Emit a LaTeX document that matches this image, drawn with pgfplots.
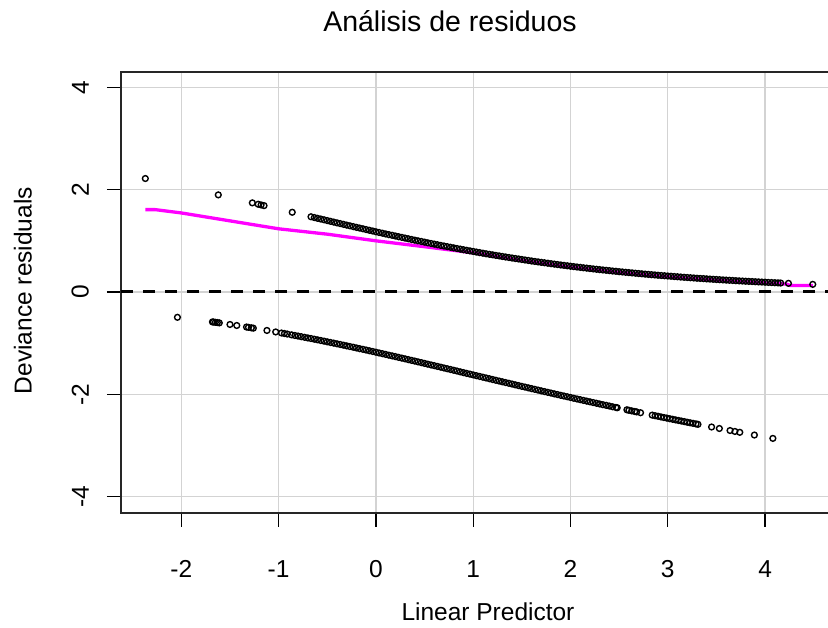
\documentclass[border=0pt]{standalone}
\usepackage{pgfplots}
\pgfplotsset{compat=1.18}
\usepackage{fontspec}
\setmainfont{Liberation Sans}
\definecolor{lg}{RGB}{211,211,211}
\definecolor{mag}{RGB}{255,0,255}
\begin{document}
\begin{tikzpicture}
\path[use as bounding box] (-121pt,-115pt) rectangle (707pt,513pt);
\begin{axis}[
  at={(0pt,0pt)}, anchor=south west,
  scale only axis, width=719pt, height=441pt,
  xmin=-2.62, xmax=4.77, ymin=-4.32, ymax=4.30,
  xtick={-2,-1,0,1,2,3,4}, ytick={-4,-2,0,2,4},
  xticklabels={-2,-1,0,1,2,3,4},
  yticklabels={-4,-2,0,2,4},
  tick pos=left, tick align=outside,
  major tick length=14pt,
  tick style={line width=1.2pt, black},
  axis line style={line width=1.3pt, black!85},
  grid=major,
  major grid style={line width=1.3pt, lg},
  ticklabel style={font=\fontsize{24.5}{29}\selectfont, inner sep=0pt},
  xticklabel style={anchor=north, yshift=-33pt},
  yticklabel style={rotate=90, anchor=south, yshift=18pt},
  xlabel={Linear Predictor},
  ylabel={Deviance residuals},
  title={Análisis de residuos},
  label style={font=\fontsize{24.5}{29}\selectfont, inner sep=0pt},
  xlabel style={at={(axis description cs:0.5104,-0.2245)}, anchor=center},
  ylabel style={at={(axis description cs:-0.1363,0.5045)}, anchor=center},
  title style={at={(axis description cs:0.4576,1.102)}, anchor=center, inner sep=0pt, font=\fontsize{28.5}{34}\selectfont},
]
% upper residuals (y = 1)
\addplot[only marks, mark=o, mark size=2.9pt, mark options={line width=1.4pt, black}] coordinates {
(-2.37,2.218) (-1.62,1.898) (-1.27,1.742) (-1.21,1.715) (-1.18,1.702) (-1.15,1.688) (-0.86,1.558)
(-0.667,1.470) (-0.633,1.455) (-0.6,1.440) (-0.567,1.426) (-0.533,1.411) (-0.5,1.396) (-0.467,1.381) (-0.433,1.366) (-0.4,1.351) (-0.367,1.337) (-0.333,1.322) (-0.3,1.307) (-0.267,1.293) (-0.233,1.278) (-0.2,1.263) (-0.167,1.249) (-0.133,1.235) (-0.1,1.220) (-0.067,1.206) (-0.033,1.192) (0,1.177) (0.033,1.163) (0.067,1.149) (0.1,1.135) (0.133,1.121) (0.167,1.108) (0.2,1.094) (0.233,1.080) (0.267,1.067) (0.3,1.053) (0.333,1.040) (0.367,1.026) (0.4,1.013) (0.433,1.000) (0.467,0.987) (0.5,0.974) (0.533,0.961) (0.567,0.948) (0.6,0.935) (0.633,0.923) (0.667,0.910) (0.7,0.898) (0.733,0.886) (0.767,0.874) (0.8,0.862) (0.833,0.850) (0.867,0.838) (0.9,0.826) (0.933,0.815) (0.967,0.803) (1.0,0.792) (1.033,0.780) (1.067,0.769) (1.1,0.758) (1.133,0.747) (1.167,0.736) (1.2,0.726) (1.233,0.715) (1.267,0.705) (1.3,0.694) (1.333,0.684) (1.367,0.674) (1.4,0.664) (1.433,0.654) (1.467,0.645) (1.5,0.635) (1.533,0.625) (1.567,0.616) (1.6,0.606) (1.633,0.597) (1.667,0.588) (1.7,0.579) (1.733,0.571) (1.767,0.562) (1.8,0.553) (1.833,0.545) (1.867,0.536) (1.9,0.528) (1.933,0.520) (1.967,0.512) (2.0,0.504) (2.033,0.496) (2.067,0.488) (2.1,0.481) (2.133,0.473) (2.167,0.466) (2.2,0.458) (2.233,0.451) (2.267,0.444) (2.3,0.437) (2.333,0.430) (2.367,0.424) (2.4,0.417) (2.433,0.410) (2.467,0.404) (2.5,0.397) (2.533,0.391) (2.567,0.385) (2.6,0.379) (2.633,0.373) (2.667,0.367) (2.7,0.361) (2.733,0.355) (2.767,0.349) (2.8,0.344) (2.833,0.338) (2.867,0.333) (2.9,0.327) (2.933,0.322) (2.967,0.317) (3.0,0.312) (3.033,0.307) (3.067,0.302) (3.1,0.297) (3.133,0.292) (3.167,0.287) (3.2,0.283) (3.233,0.278) (3.267,0.274) (3.3,0.269) (3.333,0.265) (3.367,0.261) (3.4,0.256) (3.433,0.252) (3.467,0.248) (3.5,0.244) (3.533,0.240) (3.567,0.236) (3.6,0.232) (3.633,0.229) (3.667,0.225) (3.7,0.221) (3.733,0.217) (3.767,0.214) (3.8,0.210) (3.833,0.207) (3.867,0.204) (3.9,0.200) (3.933,0.197) (3.967,0.194) (4.0,0.191) (4.033,0.187) (4.067,0.184) (4.1,0.181) (4.133,0.178) (4.16,0.175) (4.24,0.169) (4.49,0.149)
};
% lower residuals (y = 0)
\addplot[only marks, mark=o, mark size=2.9pt, mark options={line width=1.4pt, black}] coordinates {
(-2.04,-0.495) (-1.68,-0.585) (-1.67,-0.587) (-1.65,-0.593) (-1.63,-0.598) (-1.61,-0.604) (-1.50,-0.635) (-1.43,-0.655) (-1.33,-0.685) (-1.31,-0.691) (-1.28,-0.701) (-1.26,-0.707) (-1.12,-0.752) (-1.03,-0.781) (-0.97,-0.802) (-0.94,-0.812) (-0.91,-0.823)
(-0.867,-0.838) (-0.833,-0.850) (-0.8,-0.862) (-0.767,-0.874) (-0.733,-0.886) (-0.7,-0.898) (-0.667,-0.910) (-0.633,-0.923) (-0.6,-0.935) (-0.567,-0.948) (-0.533,-0.961) (-0.5,-0.974) (-0.467,-0.987) (-0.433,-1.000) (-0.4,-1.013) (-0.367,-1.026) (-0.333,-1.040) (-0.3,-1.053) (-0.267,-1.067) (-0.233,-1.080) (-0.2,-1.094) (-0.167,-1.108) (-0.133,-1.121) (-0.1,-1.135) (-0.067,-1.149) (-0.033,-1.163) (0,-1.177) (0.033,-1.192) (0.067,-1.206) (0.1,-1.220) (0.133,-1.235) (0.167,-1.249) (0.2,-1.263) (0.233,-1.278) (0.267,-1.293) (0.3,-1.307) (0.333,-1.322) (0.367,-1.337) (0.4,-1.351) (0.433,-1.366) (0.467,-1.381) (0.5,-1.396) (0.533,-1.411) (0.567,-1.426) (0.6,-1.440) (0.633,-1.455) (0.667,-1.470) (0.7,-1.485) (0.733,-1.500) (0.767,-1.515) (0.8,-1.530) (0.833,-1.545) (0.867,-1.561) (0.9,-1.576) (0.933,-1.591) (0.967,-1.606) (1.0,-1.621) (1.033,-1.636) (1.067,-1.651) (1.1,-1.666) (1.133,-1.681) (1.167,-1.696) (1.2,-1.711) (1.233,-1.726) (1.267,-1.741) (1.3,-1.756) (1.333,-1.770) (1.367,-1.785) (1.4,-1.800) (1.433,-1.815) (1.467,-1.830) (1.5,-1.845) (1.533,-1.859) (1.567,-1.874) (1.6,-1.889) (1.633,-1.903) (1.667,-1.918) (1.7,-1.933) (1.733,-1.947) (1.767,-1.962) (1.8,-1.976) (1.833,-1.991) (1.867,-2.005) (1.9,-2.020) (1.933,-2.034) (1.967,-2.048) (2.0,-2.062) (2.033,-2.077) (2.067,-2.091) (2.1,-2.105) (2.133,-2.119) (2.167,-2.133) (2.2,-2.147) (2.233,-2.161) (2.267,-2.175) (2.3,-2.189) (2.333,-2.203) (2.367,-2.216) (2.4,-2.230) (2.433,-2.244) (2.467,-2.257) (2.48,-2.263)
(2.58,-2.303) (2.60,-2.312) (2.63,-2.324) (2.66,-2.336) (2.68,-2.344) (2.72,-2.360) (2.84,-2.407) (2.87,-2.419) (2.90,-2.430) (2.93,-2.442) (2.96,-2.454) (2.99,-2.465) (3.02,-2.477) (3.05,-2.488) (3.08,-2.500) (3.11,-2.511) (3.14,-2.523) (3.17,-2.534) (3.20,-2.546) (3.23,-2.557) (3.26,-2.568) (3.29,-2.579) (3.31,-2.587) (3.45,-2.639) (3.53,-2.668) (3.64,-2.708) (3.69,-2.726) (3.74,-2.743) (3.89,-2.796) (4.08,-2.862)
};
% smooth line
\addplot[mag, line width=3.3pt, no marks] coordinates {
(-2.37,1.61) (-2.27,1.61) (-2.0,1.545) (-1.5,1.39) (-1.0,1.235) (-0.5,1.13) (0,1.0) (0.5,0.885) (1.0,0.765) (1.5,0.615) (2.0,0.485) (2.5,0.38) (3.0,0.295) (3.5,0.23) (4.0,0.178) (4.22,0.155) (4.26,0.125) (4.49,0.125)
};
% reference line at zero
\addplot[black, line width=3pt, dash pattern=on 12pt off 10pt, no marks] coordinates {(-2.62,0) (4.77,0)};
\end{axis}
\end{tikzpicture}
\end{document}
